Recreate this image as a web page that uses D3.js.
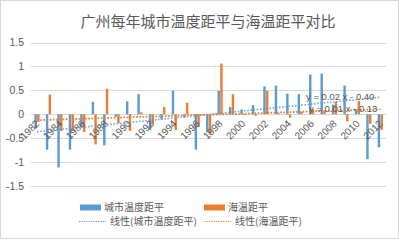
<!DOCTYPE html>
<html><head><meta charset="utf-8">
<script src="https://cdn.jsdelivr.net/npm/d3@7/dist/d3.min.js"></script>
<style>
body{margin:0;background:#fff;}
text{font-family:"Liberation Sans","Noto Sans CJK SC",sans-serif;}
.cjk{font-family:"Noto Sans CJK SC",sans-serif;}
</style></head>
<body><svg id="c" width="399" height="240"></svg>
<script>
const years = d3.range(1982, 2013).map(String);
const cityAnomaly = [-0.30,-0.74,-1.11,-0.74,-0.27,0.26,-0.65,-0.05,0.27,0.42,-0.33,-0.11,0.49,-0.07,-0.74,-0.38,0.49,0.15,0.10,0.19,0.58,0.60,0.43,0.42,0.83,0.85,0.20,0.60,0.10,-0.94,-0.69];
const seaAnomaly = [-0.16,0.41,-0.35,-0.35,-0.37,-0.63,0.53,-0.19,-0.35,0.04,-0.22,0.15,-0.33,0.24,-0.27,-0.43,1.06,0.42,-0.02,-0.03,0.49,0.02,-0.07,0.05,0.10,0.08,0.26,-0.15,0.28,-0.20,-0.33];
const yTicks = [-1.5,-1,-0.5,0,0.5,1,1.5];
const xTickLabels = years.filter((d,i)=>i%2===0);
const seriesNames = ["城市温度距平","海温距平"];
const trendNames = ["线性(城市温度距平)","线性(海温距平)"];
const trendLabels = ["y = 0.02 x - 0.40","y = 0.01 x - 0.13"];
const title = "广州每年城市温度距平与海温距平对比";
const colors = ["#5B9BD5","#ED7D31"];

const svg = d3.select("#c");
svg.append("rect").attr("x",0.5).attr("y",0.5).attr("width",398).attr("height",238)
  .attr("fill","#fff").attr("stroke","#d9d9d9");

const x0 = d3.scaleBand().domain(years).range([31.3,386]).paddingInner(0.55).paddingOuter(0.275);
const x1 = d3.scaleBand().domain([0,1]).range([0,x0.bandwidth()]).paddingInner(0.12);
const y = d3.scaleLinear().domain([-1.5,1.5]).range([186,42.5]);

// gridlines
svg.append("g").selectAll("line").data(yTicks).join("line")
  .attr("x1",31).attr("x2",386).attr("y1",d=>Math.round(y(d))+0.5).attr("y2",d=>Math.round(y(d))+0.5)
  .attr("stroke","#d9d9d9").attr("stroke-width",1);

// y labels
svg.append("g").selectAll("text").data(yTicks).join("text")
  .attr("x",24).attr("y",d=>y(d)).attr("dy","0.35em").attr("text-anchor","end")
  .attr("font-size",10.5).attr("fill","#595959").text(d=>d);

// bars
const series = [cityAnomaly, seaAnomaly];
series.forEach((vals,si)=>{
  svg.append("g").selectAll("rect").data(vals).join("rect")
    .attr("x",(d,i)=>x0(years[i])+x1(si))
    .attr("width",x1.bandwidth())
    .attr("y",d=>y(Math.max(0,d)))
    .attr("height",d=>Math.abs(y(d)-y(0)))
    .attr("fill",colors[si]);
});

// x labels
svg.append("g").selectAll("text").data(xTickLabels).join("text")
  .attr("transform",d=>`translate(${x0(d)+x0.bandwidth()/2+0.5},${y(0)+7.5}) rotate(-45)`)
  .attr("text-anchor","end").attr("dy","0.35em")
  .attr("font-size",10).attr("fill","#595959").text(d=>d);

// trend lines (least squares, x = 1..n)
function fit(vals){
  const n=vals.length, xs=d3.range(1,n+1);
  const mx=d3.mean(xs), my=d3.mean(vals);
  const b=d3.sum(xs,(xv,i)=>(xv-mx)*(vals[i]-my))/d3.sum(xs,xv=>(xv-mx)**2);
  return {a:my-b*mx,b};
}
const line = d3.line().x(d=>d[0]).y(d=>d[1]);
series.forEach((vals,si)=>{
  const f=fit(vals);
  const pts=[[x0(years[0])+x0.bandwidth()/2, y(f.a+f.b*1)],
             [x0(years[years.length-1])+x0.bandwidth()/2, y(f.a+f.b*vals.length)]];
  svg.append("path").attr("d",line(pts)).attr("fill","none")
    .attr("stroke",colors[si]).attr("stroke-width",si===0?1.6:1.8)
    .attr("stroke-dasharray","1.6,1.6").attr("opacity",si===0?0.85:1);
});

// trend labels
svg.append("text").attr("x",306).attr("y",100).attr("font-size",9.5).attr("fill","#595959").text(trendLabels[0]);
svg.append("text").attr("x",309).attr("y",112).attr("font-size",9.5).attr("fill","#595959").text(trendLabels[1]);

// title
svg.append("text").attr("class","cjk").attr("x",208).attr("y",27).attr("text-anchor","middle")
  .attr("font-size",15).attr("fill","#595959").text(title);

// legend
const lg = svg.append("g");
const lgItems = [
  {x:80, y:207.5, type:"rect", c:colors[0], t:seriesNames[0]},
  {x:204, y:207.5, type:"rect", c:colors[1], t:seriesNames[1]},
  {x:79, y:221.5, type:"line", c:colors[0], t:trendNames[0]},
  {x:204, y:221.5, type:"line", c:colors[1], t:trendNames[1]}
];
lgItems.forEach(it=>{
  if(it.type==="rect"){
    lg.append("rect").attr("x",it.x).attr("y",it.y-3).attr("width",21).attr("height",6).attr("fill",it.c);
    lg.append("text").attr("class","cjk").attr("x",it.x+24).attr("y",it.y).attr("dy","0.35em")
      .attr("font-size",10).attr("fill","#595959").text(it.t);
  } else {
    lg.append("line").attr("x1",it.x).attr("x2",it.x+27).attr("y1",it.y).attr("y2",it.y)
      .attr("stroke",it.c).attr("stroke-width",1).attr("stroke-dasharray","1.2,1.2");
    lg.append("text").attr("class","cjk").attr("x",it.x+31).attr("y",it.y).attr("dy","0.35em")
      .attr("font-size",10).attr("fill","#595959").text(it.t);
  }
});
</script></body></html>
